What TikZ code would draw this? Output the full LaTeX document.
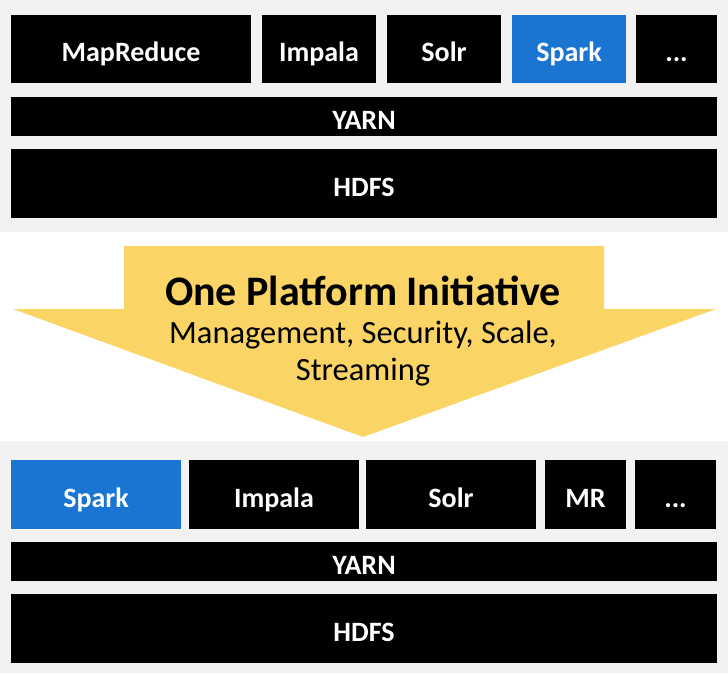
\documentclass[tikz,border=0pt]{standalone}
\usepackage{fontspec}
\setmainfont{Carlito}
\definecolor{panelgray}{HTML}{F2F2F2}
\definecolor{sparkblue}{HTML}{1A75D2}
\definecolor{arrowgold}{HTML}{FAD566}
\tikzset{
  layer/.style={fill=black, text=white, inner sep=0pt, font=\bfseries\fontsize{28}{30}\selectfont,
    text height=25pt, text depth=0pt},
  bluelayer/.style={layer, fill=sparkblue},
  titletext/.style={anchor=base, inner sep=0pt, font=\bfseries\fontsize{42}{44}\selectfont},
  subtext/.style={anchor=base, inner sep=0pt, font=\fontsize{32.5}{36}\selectfont},
}
\begin{document}
\begin{tikzpicture}[x=1pt,y=-1pt]
\useasboundingbox (0,0) rectangle (728,673);
% backgrounds
\fill[panelgray] (0,0) rectangle (728,232);
\fill[white] (0,232) rectangle (728,441);
\fill[panelgray] (0,441) rectangle (728,673);
% top stack
\node[layer, minimum width=240pt, minimum height=68pt] (mr1) at (131,49) {MapReduce};
\node[layer, minimum width=114pt, minimum height=68pt] (im1) at (319,49) {Impala};
\node[layer, minimum width=114pt, minimum height=68pt] (so1) at (444,49) {Solr};
\node[bluelayer, minimum width=114pt, minimum height=68pt] (sp1) at (569,49) {Spark};
\node[layer, minimum width=81pt, minimum height=68pt] (dd1) at (676.5,49) {...};
\node[layer, minimum width=706pt, minimum height=39pt] (ya1) at (364,116.5) {YARN};
\node[layer, minimum width=706pt, minimum height=69pt] (hd1) at (364,183.5) {HDFS};
% arrow
\fill[arrowgold] (124,246) -- (604,246) -- (604,309) -- (716,309) -- (363,437)
  -- (13,309) -- (124,309) -- cycle;
\node[titletext] (t1) at (363,305) {One Platform Initiative};
\node[subtext] (t2) at (363,343) {Management, Security, Scale,};
\node[subtext] (t3) at (363,380) {Streaming};
% bottom stack
\node[bluelayer, minimum width=170pt, minimum height=69pt] (sp2) at (96,494.5) {Spark};
\node[layer, minimum width=170pt, minimum height=69pt] (im2) at (274,494.5) {Impala};
\node[layer, minimum width=170pt, minimum height=69pt] (so2) at (451,494.5) {Solr};
\node[layer, minimum width=81pt, minimum height=69pt] (mr2) at (585.5,494.5) {MR};
\node[layer, minimum width=81pt, minimum height=69pt] (dd2) at (675.5,494.5) {...};
\node[layer, minimum width=706pt, minimum height=39pt] (ya2) at (364,561.5) {YARN};
\node[layer, minimum width=706pt, minimum height=69pt] (hd2) at (364,628.5) {HDFS};
\end{tikzpicture}
\end{document}
